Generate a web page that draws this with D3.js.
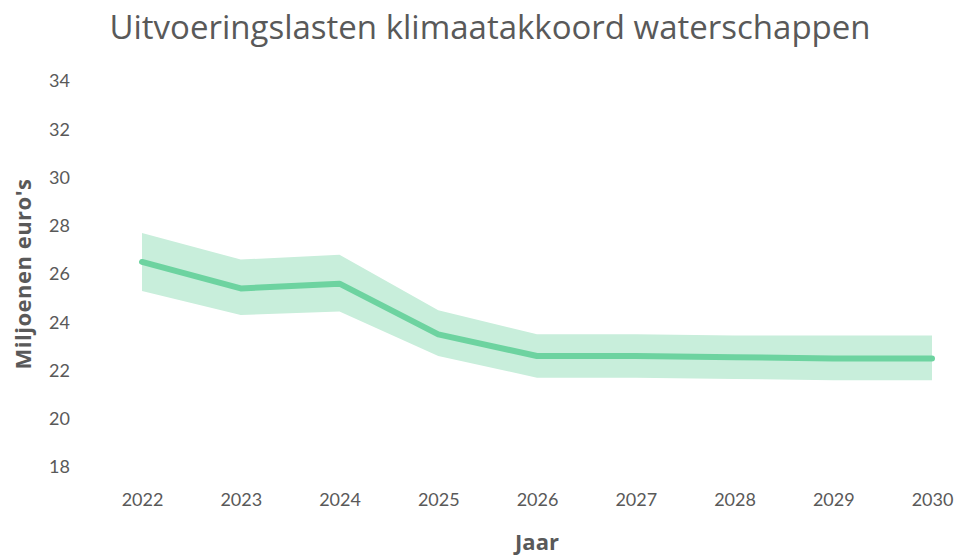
<!DOCTYPE html>
<html>
<head>
    <meta charset="utf-8">
    <script src="https://d3js.org/d3.v7.min.js"></script>
    <style>
        body { margin: 0; background: #fff; }
        svg { font-family: Lato, "Open Sans", sans-serif; }
    </style>
</head>
<body>
    <svg id="chart" width="960" height="555"></svg>

    <script>
        // chart data
        const years = [2022, 2023, 2024, 2025, 2026, 2027, 2028, 2029, 2030];
        const middle = [26.5, 25.4, 25.6, 23.5, 22.6, 22.6, 22.55, 22.5, 22.5];
        const upper = [27.7, 26.6, 26.8, 24.5, 23.5, 23.5, 23.45, 23.45, 23.45];
        const lower = [25.3, 24.3, 24.45, 22.6, 21.7, 21.7, 21.65, 21.6, 21.6];
        const yTicks = [18, 20, 22, 24, 26, 28, 30, 32, 34];

        const svg = d3.select("svg"),
            width = +svg.attr("width"),
            height = +svg.attr("height");

        const x = d3.scaleLinear()
            .domain([2022, 2030])
            .range([142, 932]);

        const y = d3.scaleLinear()
            .domain([18, 34])
            .range([467, 81]);

        const rows = years.map((yr, i) => ({ year: yr, mid: middle[i], hi: upper[i], lo: lower[i] }));

        // title
        svg.append("text")
            .attr("x", 490)
            .attr("y", 39)
            .attr("text-anchor", "middle")
            .attr("font-family", "'Open Sans', sans-serif")
            .attr("font-size", "33px")
            .attr("fill", "#595959")
            .text("Uitvoeringslasten klimaatakkoord waterschappen");

        // band
        svg.append("path")
            .datum(rows)
            .attr("fill", "#c8eedb")
            .attr("d", d3.area()
                .x(d => x(d.year))
                .y0(d => y(d.lo))
                .y1(d => y(d.hi)));

        // line
        svg.append("path")
            .datum(rows)
            .attr("fill", "none")
            .attr("stroke", "#6dd3a0")
            .attr("stroke-width", 6)
            .attr("stroke-linecap", "round")
            .attr("stroke-linejoin", "round")
            .attr("d", d3.line()
                .x(d => x(d.year))
                .y(d => y(d.mid)));

        // y axis
        const yAxis = svg.append("g")
            .attr("transform", "translate(70,0)")
            .call(d3.axisLeft(y).tickValues(yTicks).tickSize(0).tickPadding(0));
        yAxis.select(".domain").remove();
        yAxis.selectAll("text")
            .attr("font-family", "Lato, sans-serif")
            .attr("font-size", "18px")
            .attr("fill", "#595959");

        // x axis
        const xAxis = svg.append("g")
            .attr("transform", "translate(0,493)")
            .call(d3.axisBottom(x).tickValues(years).tickFormat(d3.format("d")).tickSize(0).tickPadding(0));
        xAxis.select(".domain").remove();
        xAxis.selectAll("text")
            .attr("font-family", "Lato, sans-serif")
            .attr("font-size", "18px")
            .attr("fill", "#595959");

        // axis titles
        svg.append("text")
            .attr("transform", "translate(31,274) rotate(-90)")
            .attr("text-anchor", "middle")
            .attr("font-family", "'Open Sans', sans-serif")
            .attr("font-size", "22px")
            .attr("font-weight", "bold")
            .attr("letter-spacing", "0.5px")
            .attr("fill", "#595959")
            .text("Miljoenen euro's");

        svg.append("text")
            .attr("x", 537)
            .attr("y", 550)
            .attr("text-anchor", "middle")
            .attr("font-family", "'Open Sans', sans-serif")
            .attr("font-size", "22px")
            .attr("font-weight", "bold")
            .attr("fill", "#595959")
            .text("Jaar");
    </script>
</body>
</html>
